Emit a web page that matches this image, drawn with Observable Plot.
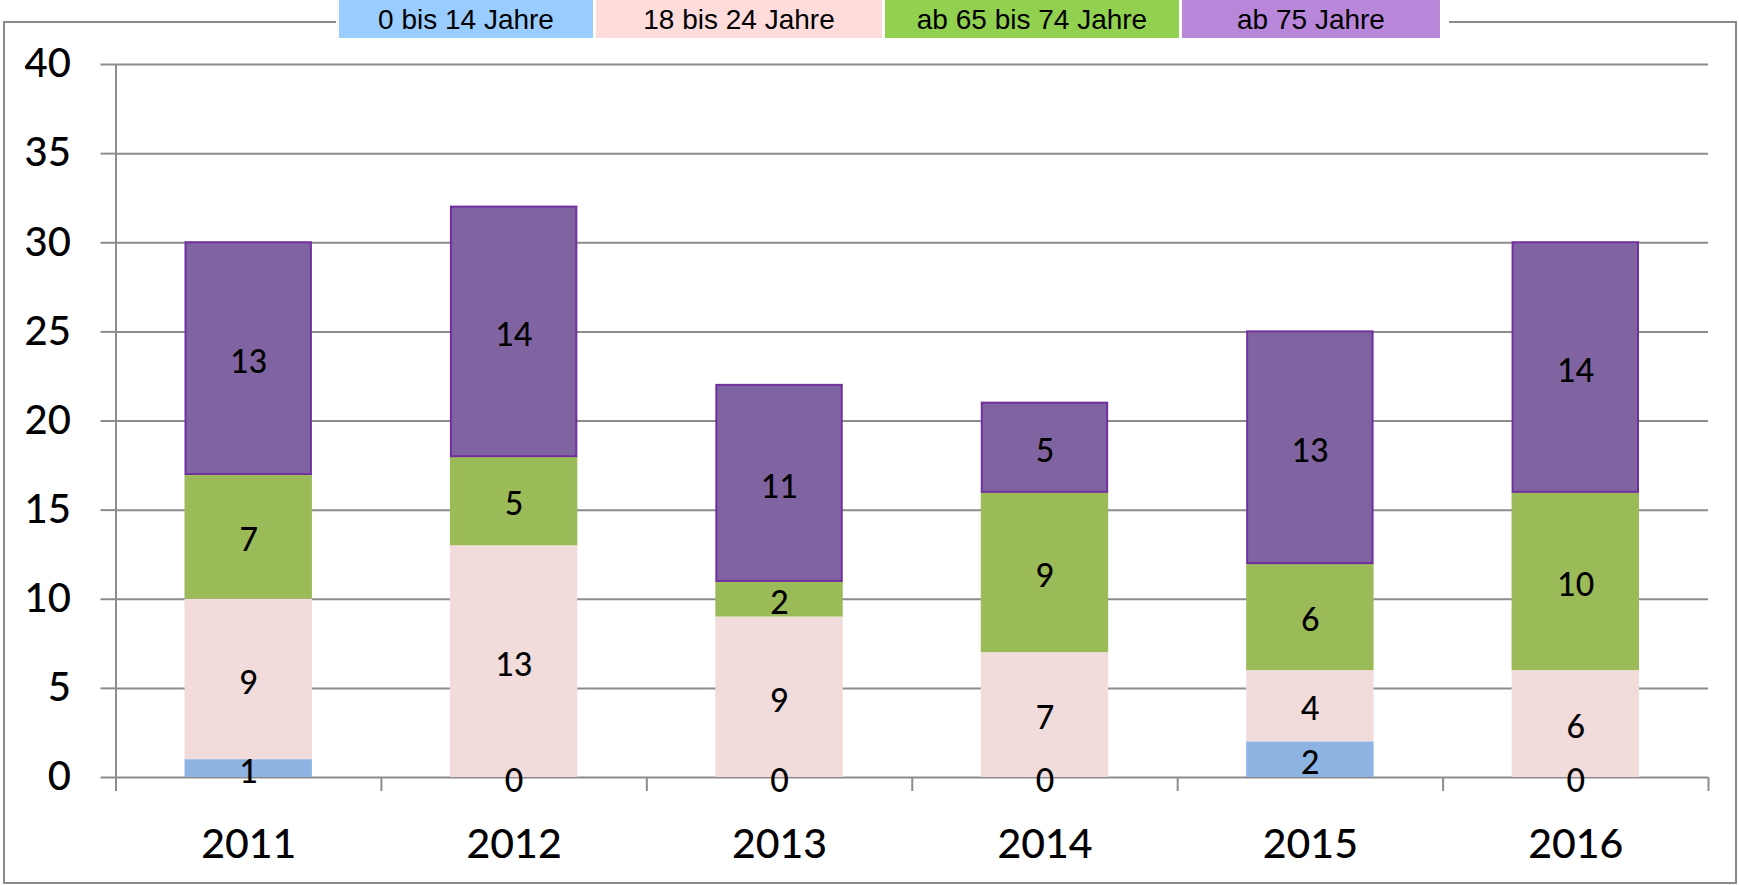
<!DOCTYPE html>
<html>
<head>
<meta charset="utf-8">
<script src="https://cdn.jsdelivr.net/npm/d3@7"></script>
<script src="https://cdn.jsdelivr.net/npm/@observablehq/plot@0.6"></script>
<style>
  html, body { margin: 0; padding: 0; background: #fff; }
  #wrap { position: relative; width: 1739px; height: 885px; overflow: hidden; }
  #chart { position: absolute; left: 0; top: 0; }
  #frame { position: absolute; left: 3px; top: 21px; width: 1734px; height: 863px;
           border: 2px solid #8a8a8a; box-sizing: border-box; pointer-events: none; }
  #legend { position: absolute; left: 336px; top: 0; height: 39px; display: flex;
            background: #fff; padding: 0 6px 0 3px; }
  #legend .item { height: 38px; line-height: 40px; text-align: center;
                  font-family: "Liberation Sans", Arial, sans-serif; font-size: 28px; color: #000;
                  margin-right: 3px; }
</style>
</head>
<body>
<div id="wrap">
  <div id="chart"></div>
  <div id="frame"></div>
  <div id="legend"></div>
</div>
<script>
// ---- data ----
const years = ["2011", "2012", "2013", "2014", "2015", "2016"];
const ageGroups = ["0 bis 14 Jahre", "18 bis 24 Jahre", "ab 65 bis 74 Jahre", "ab 75 Jahre"];
const age0to14 = [1, 0, 0, 0, 2, 0];
const age18to24 = [9, 13, 9, 7, 4, 6];
const age65to74 = [7, 5, 2, 9, 6, 10];
const age75plus = [13, 14, 11, 5, 13, 14];
const yTicks = [0, 5, 10, 15, 20, 25, 30, 35, 40];

// ---- styles ----
const barColors = ["#8db3e2", "#f2dcdb", "#9bbb59", "#8064a2"];
const legendColors = ["#99ccff", "#fedcdc", "#92d050", "#b987da"];
const legendWidths = [254, 286, 294, 258];

// build stacked rows
const series = [age0to14, age18to24, age65to74, age75plus];
const rows = [];
years.forEach((yr, i) => {
  let acc = 0;
  series.forEach((vals, s) => {
    const v = vals[i];
    rows.push({i, year: yr, age: ageGroups[s], value: v, y1: acc, y2: acc + v, s});
    acc += v;
  });
});

const grey = "#8c8c8c";
const chart = Plot.plot({
  width: 1739,
  height: 885,
  marginLeft: 115.5,
  marginRight: 31,
  marginTop: 64,
  marginBottom: 108,
  style: {fontFamily: "Lato, 'Open Sans', sans-serif", background: "transparent"},
  x: {type: "linear", domain: [0, years.length]},
  y: {domain: [0, 40]},
  color: {domain: ageGroups, range: barColors},
  marks: [
    Plot.gridY(yTicks, {stroke: grey, strokeOpacity: 1, strokeWidth: 2}),
    Plot.axisY(yTicks, {tickSize: 15, tickPadding: 30, fontSize: 40, fontWeight: 500, stroke: grey, strokeWidth: 2, fill: "#000", label: null}),
    Plot.ruleX([0], {y1: 0, y2: 40, stroke: grey, strokeWidth: 2}),
    Plot.axisX(d3.range(0, years.length + 1), {tickSize: 14, tickFormat: () => "", stroke: grey, strokeWidth: 2, label: null}),
    Plot.axisX(years.map((d, i) => i + 0.5), {tickSize: 0, tickPadding: 51, fontSize: 41, fontWeight: 500, fill: "#000",
      tickFormat: d => years[Math.floor(d)], label: null}),
    Plot.rectY(rows.filter(d => d.value > 0 && d.s !== 3), {
      x1: d => d.i, x2: d => d.i + 1, y1: "y1", y2: "y2", fill: "age",
      insetLeft: 69, insetRight: 69
    }),
    Plot.rectY(rows.filter(d => d.value > 0 && d.s === 3), {
      x1: d => d.i, x2: d => d.i + 1, y1: "y1", y2: "y2", fill: "age",
      stroke: "#7030a0", strokeWidth: 2, insetLeft: 70, insetRight: 70
    }),
    Plot.text(rows, {
      x: d => d.i + 0.5, y: d => (d.y1 + d.y2) / 2, text: d => String(d.value),
      fontSize: 32, fontWeight: 500, fill: "#000", dy: 4
    })
  ]
});
document.getElementById("chart").appendChild(chart);

// legend
const legend = document.getElementById("legend");
ageGroups.forEach((g, k) => {
  const el = document.createElement("div");
  el.className = "item";
  el.style.background = legendColors[k];
  el.style.width = legendWidths[k] + "px";
  el.textContent = g;
  legend.appendChild(el);
});
</script>
</body>
</html>
